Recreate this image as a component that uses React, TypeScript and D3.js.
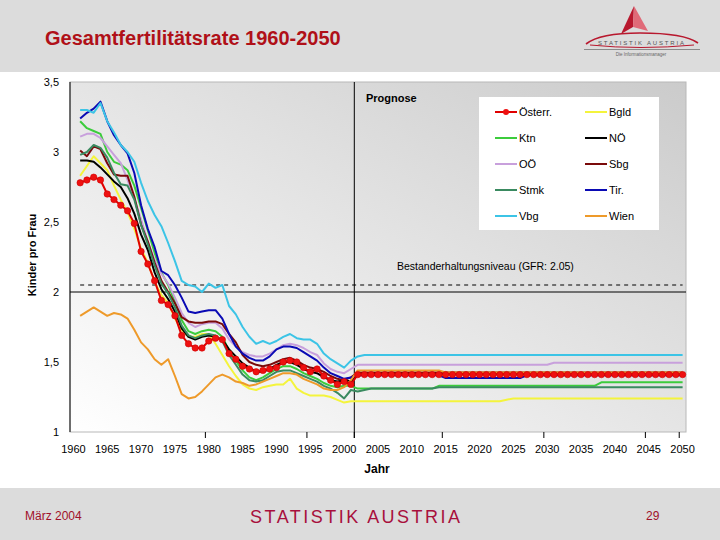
import * as d3 from "d3";

// Kategorien: 1960..2050, Daten ab 1961
const categoryYears = d3.range(1960, 2051);
const dataYears = d3.range(1961, 2051);
const xLabelYears = [1960, 1965, 1970, 1975, 1980, 1985, 1990, 1995, 2000, 2005, 2010, 2015, 2020, 2025, 2030, 2035, 2040, 2045, 2050];
const xTickYears = [1980, 1995, 2002, 2015, 2030, 2045, 2050];
const yTicks = [1, 1.5, 2, 2.5, 3, 3.5];
const prognoseStart = 2002;
const replacementLevel = 2.05;

// 1961-2001 (Beobachtung)
const oesterrHist = [2.78, 2.80, 2.82, 2.80, 2.70, 2.66, 2.62, 2.58, 2.49, 2.29, 2.20, 2.08, 1.94, 1.91, 1.83, 1.69, 1.63, 1.60, 1.60, 1.65, 1.67, 1.66, 1.56, 1.52, 1.47, 1.45, 1.43, 1.44, 1.45, 1.46, 1.50, 1.51, 1.50, 1.46, 1.43, 1.45, 1.40, 1.37, 1.34, 1.36, 1.34];
const bgldHist = [2.83, 2.90, 2.97, 2.92, 2.87, 2.76, 2.66, 2.57, 2.45, 2.31, 2.21, 2.07, 1.98, 1.92, 1.81, 1.73, 1.68, 1.68, 1.70, 1.70, 1.63, 1.55, 1.47, 1.40, 1.34, 1.31, 1.30, 1.32, 1.33, 1.34, 1.34, 1.38, 1.31, 1.28, 1.26, 1.26, 1.26, 1.25, 1.23, 1.21, 1.22];
const ktnHist = [3.22, 3.17, 3.15, 3.13, 3.00, 2.93, 2.91, 2.87, 2.76, 2.60, 2.44, 2.28, 2.14, 2.05, 1.93, 1.80, 1.72, 1.70, 1.72, 1.73, 1.72, 1.68, 1.58, 1.51, 1.44, 1.39, 1.37, 1.39, 1.42, 1.45, 1.47, 1.47, 1.45, 1.42, 1.40, 1.38, 1.35, 1.33, 1.32, 1.33, 1.33];
const noeHist = [2.94, 2.94, 2.93, 2.89, 2.84, 2.79, 2.75, 2.67, 2.56, 2.41, 2.30, 2.14, 2.02, 1.95, 1.86, 1.74, 1.68, 1.66, 1.68, 1.69, 1.68, 1.66, 1.59, 1.54, 1.49, 1.46, 1.43, 1.43, 1.45, 1.48, 1.50, 1.50, 1.48, 1.45, 1.43, 1.42, 1.39, 1.37, 1.36, 1.37, 1.36];
const ooeHist = [3.11, 3.13, 3.13, 3.10, 3.04, 2.98, 2.92, 2.80, 2.67, 2.52, 2.36, 2.23, 2.13, 2.06, 1.96, 1.85, 1.78, 1.75, 1.77, 1.78, 1.78, 1.74, 1.66, 1.61, 1.57, 1.55, 1.54, 1.54, 1.56, 1.59, 1.62, 1.63, 1.62, 1.60, 1.57, 1.55, 1.49, 1.45, 1.43, 1.42, 1.45];
const sbgHist = [3.01, 2.97, 3.04, 3.02, 2.92, 2.84, 2.83, 2.83, 2.68, 2.48, 2.36, 2.21, 2.08, 2.00, 1.92, 1.82, 1.79, 1.78, 1.78, 1.79, 1.79, 1.77, 1.70, 1.64, 1.55, 1.50, 1.48, 1.47, 1.48, 1.50, 1.52, 1.53, 1.51, 1.48, 1.46, 1.45, 1.43, 1.40, 1.38, 1.37, 1.39];
const stmkHist = [2.98, 3.00, 3.05, 3.03, 2.96, 2.85, 2.77, 2.76, 2.66, 2.48, 2.34, 2.19, 2.06, 1.99, 1.89, 1.76, 1.69, 1.67, 1.69, 1.70, 1.69, 1.65, 1.55, 1.48, 1.41, 1.37, 1.36, 1.37, 1.40, 1.43, 1.44, 1.44, 1.42, 1.40, 1.38, 1.36, 1.33, 1.31, 1.28, 1.24, 1.30];
const tirHist = [3.24, 3.28, 3.31, 3.36, 3.22, 3.12, 3.05, 2.99, 2.85, 2.62, 2.45, 2.32, 2.15, 2.12, 2.05, 1.96, 1.86, 1.85, 1.86, 1.87, 1.87, 1.81, 1.70, 1.61, 1.56, 1.53, 1.51, 1.51, 1.54, 1.59, 1.61, 1.61, 1.60, 1.57, 1.54, 1.51, 1.46, 1.42, 1.40, 1.38, 1.39];
const vbgHist = [3.30, 3.30, 3.28, 3.35, 3.22, 3.14, 3.05, 3.00, 2.93, 2.78, 2.65, 2.55, 2.47, 2.35, 2.22, 2.08, 2.05, 2.04, 2.00, 2.06, 2.03, 2.05, 1.90, 1.84, 1.75, 1.68, 1.63, 1.65, 1.63, 1.65, 1.68, 1.70, 1.67, 1.66, 1.66, 1.63, 1.56, 1.52, 1.49, 1.46, 1.51];
const wienHist = [1.83, 1.86, 1.89, 1.86, 1.83, 1.85, 1.84, 1.81, 1.73, 1.64, 1.59, 1.52, 1.48, 1.52, 1.40, 1.27, 1.24, 1.25, 1.29, 1.34, 1.39, 1.41, 1.39, 1.36, 1.35, 1.33, 1.34, 1.36, 1.38, 1.40, 1.42, 1.42, 1.41, 1.38, 1.36, 1.34, 1.31, 1.30, 1.30, 1.32, 1.37];

// 2002-2050 (Prognose)
const oesterrProg = [
  1.41, 1.41, 1.41, 1.41, 1.41, 1.41, 1.41, 1.41, 1.41, 1.41,
  1.41, 1.41, 1.41, 1.41, 1.41, 1.41, 1.41, 1.41, 1.41, 1.41,
  1.41, 1.41, 1.41, 1.41, 1.41, 1.41, 1.41, 1.41, 1.41, 1.41,
  1.41, 1.41, 1.41, 1.41, 1.41, 1.41, 1.41, 1.41, 1.41, 1.41,
  1.41, 1.41, 1.41, 1.41, 1.41, 1.41, 1.41, 1.41, 1.41];
const bgldProg = [
  1.22, 1.22, 1.22, 1.22, 1.22, 1.22, 1.22, 1.22, 1.22, 1.22,
  1.22, 1.22, 1.22, 1.22, 1.22, 1.22, 1.22, 1.22, 1.22, 1.22,
  1.22, 1.22, 1.23, 1.24, 1.24, 1.24, 1.24, 1.24, 1.24, 1.24,
  1.24, 1.24, 1.24, 1.24, 1.24, 1.24, 1.24, 1.24, 1.24, 1.24,
  1.24, 1.24, 1.24, 1.24, 1.24, 1.24, 1.24, 1.24, 1.24];
const ktnProg = [
  1.31, 1.31, 1.31, 1.31, 1.31, 1.31, 1.31, 1.31, 1.31, 1.31,
  1.31, 1.31, 1.33, 1.33, 1.33, 1.33, 1.33, 1.33, 1.33, 1.33,
  1.33, 1.33, 1.33, 1.33, 1.33, 1.33, 1.33, 1.33, 1.33, 1.33,
  1.33, 1.33, 1.33, 1.33, 1.33, 1.33, 1.355, 1.355, 1.355, 1.355,
  1.355, 1.355, 1.355, 1.355, 1.355, 1.355, 1.355, 1.355, 1.355];
const noeProg = [
  1.415, 1.415, 1.415, 1.415, 1.415, 1.415, 1.415, 1.415, 1.415, 1.415,
  1.415, 1.415, 1.415, 1.415, 1.415, 1.415, 1.415, 1.415, 1.415, 1.415,
  1.415, 1.415, 1.415, 1.415, 1.415, 1.415, 1.415, 1.415, 1.415, 1.415,
  1.415, 1.415, 1.415, 1.415, 1.415, 1.415, 1.415, 1.415, 1.415, 1.415,
  1.415, 1.415, 1.415, 1.415, 1.415, 1.415, 1.415, 1.415, 1.415];
const ooeProg = [
  1.48, 1.48, 1.48, 1.48, 1.48, 1.48, 1.48, 1.48, 1.48, 1.48,
  1.48, 1.48, 1.48, 1.48, 1.48, 1.48, 1.48, 1.48, 1.48, 1.48,
  1.48, 1.48, 1.48, 1.48, 1.48, 1.48, 1.48, 1.48, 1.48, 1.495,
  1.495, 1.495, 1.495, 1.495, 1.495, 1.495, 1.495, 1.495, 1.495, 1.495,
  1.495, 1.495, 1.495, 1.495, 1.495, 1.495, 1.495, 1.495, 1.495];
const sbgProg = [
  1.425, 1.425, 1.425, 1.425, 1.425, 1.425, 1.425, 1.425, 1.425, 1.425,
  1.425, 1.425, 1.425, 1.425, 1.425, 1.425, 1.425, 1.425, 1.425, 1.425,
  1.425, 1.425, 1.425, 1.425, 1.425, 1.425, 1.425, 1.425, 1.425, 1.425,
  1.425, 1.425, 1.425, 1.425, 1.425, 1.425, 1.425, 1.425, 1.425, 1.425,
  1.425, 1.425, 1.425, 1.425, 1.425, 1.425, 1.425, 1.425, 1.425];
const stmkProg = [
  1.29, 1.30, 1.31, 1.31, 1.31, 1.31, 1.31, 1.31, 1.31, 1.31,
  1.31, 1.31, 1.32, 1.32, 1.32, 1.32, 1.32, 1.32, 1.32, 1.32,
  1.32, 1.32, 1.32, 1.32, 1.32, 1.32, 1.32, 1.32, 1.32, 1.32,
  1.32, 1.32, 1.32, 1.32, 1.32, 1.32, 1.32, 1.32, 1.32, 1.32,
  1.32, 1.32, 1.32, 1.32, 1.32, 1.32, 1.32, 1.32, 1.32];
const tirProg = [
  1.405, 1.405, 1.405, 1.405, 1.405, 1.405, 1.405, 1.405, 1.405, 1.405,
  1.405, 1.405, 1.405, 1.385, 1.385, 1.385, 1.385, 1.385, 1.385, 1.385,
  1.385, 1.385, 1.385, 1.385, 1.385, 1.405, 1.405, 1.405, 1.405, 1.405,
  1.405, 1.405, 1.405, 1.405, 1.405, 1.405, 1.405, 1.405, 1.405, 1.405,
  1.405, 1.405, 1.405, 1.405, 1.405, 1.405, 1.405, 1.405, 1.405];
const vbgProg = [
  1.54, 1.55, 1.55, 1.55, 1.55, 1.55, 1.55, 1.55, 1.55, 1.55,
  1.55, 1.55, 1.55, 1.55, 1.55, 1.55, 1.55, 1.55, 1.55, 1.55,
  1.55, 1.55, 1.55, 1.55, 1.55, 1.55, 1.55, 1.55, 1.55, 1.55,
  1.55, 1.55, 1.55, 1.55, 1.55, 1.55, 1.55, 1.55, 1.55, 1.55,
  1.55, 1.55, 1.55, 1.55, 1.55, 1.55, 1.55, 1.55, 1.55];
const wienProg = [
  1.44, 1.44, 1.44, 1.44, 1.44, 1.44, 1.44, 1.44, 1.44, 1.44,
  1.44, 1.44, 1.44, 1.425, 1.425, 1.425, 1.425, 1.425, 1.425, 1.425,
  1.425, 1.425, 1.425, 1.425, 1.425, 1.425, 1.425, 1.425, 1.425, 1.425,
  1.425, 1.425, 1.425, 1.425, 1.425, 1.425, 1.425, 1.425, 1.425, 1.425,
  1.425, 1.425, 1.425, 1.425, 1.425, 1.425, 1.425, 1.425, 1.425];

const series = [
  { name: "Österr.", color: "#e00000", values: oesterrHist.concat(oesterrProg), marker: true },
  { name: "Bgld", color: "#f4f43c", values: bgldHist.concat(bgldProg) },
  { name: "Ktn", color: "#3ccc3c", values: ktnHist.concat(ktnProg) },
  { name: "NÖ", color: "#000000", values: noeHist.concat(noeProg) },
  { name: "OÖ", color: "#c8a0dc", values: ooeHist.concat(ooeProg) },
  { name: "Sbg", color: "#7a0a0a", values: sbgHist.concat(sbgProg) },
  { name: "Stmk", color: "#3a8a60", values: stmkHist.concat(stmkProg) },
  { name: "Tir.", color: "#0a0ab4", values: tirHist.concat(tirProg) },
  { name: "Vbg", color: "#3cc4e6", values: vbgHist.concat(vbgProg) },
  { name: "Wien", color: "#ee9a2a", values: wienHist.concat(wienProg) },
];

const FONT = "'Liberation Sans', Arial, sans-serif";
const plot = { left: 70, right: 686, top: 82, bottom: 432 };

export default function App() {
  const x = d3.scaleBand<number>().domain(categoryYears).range([plot.left, plot.right]);
  const cx = (yr: number) => (x(yr) as number) + x.bandwidth() / 2;
  const y = d3.scaleLinear().domain([1, 3.5]).range([plot.bottom, plot.top]);

  const line = d3
    .line<number>()
    .x((_, i) => cx(dataYears[i]))
    .y((d) => y(d));

  const drawOrder = series.slice(1).concat(series.slice(0, 1));
  const oesterr = series[0];

  const legendLeft = [series[0], series[2], series[4], series[6], series[8]];
  const legendRight = [series[1], series[3], series[5], series[7], series[9]];
  const legendRowY = d3.scalePoint<number>().domain([0, 1, 2, 3, 4]).range([112, 216]);

  const progX = x(prognoseStart) as number;
  const refY = y(replacementLevel);

  return (
    <svg width={720} height={540} style={{ position: "absolute", left: 0, top: 0, fontFamily: FONT }}>
      <defs>
        <linearGradient id="plotBg" x1="0" y1="1" x2="1" y2="0">
          <stop offset="0%" stopColor="#ffffff" />
          <stop offset="100%" stopColor="#cbcbcb" />
        </linearGradient>
      </defs>
      <rect x={0} y={0} width={720} height={540} fill="#ffffff" />
      {/* header + footer bands */}
      <rect x={0} y={0} width={720} height={72} fill="#dcdcdc" />
      <rect x={0} y={488} width={720} height={52} fill="#dcdcdc" />
      <text x={45} y={45} fontSize={20} fontWeight="bold" fill="#b01018">
        Gesamtfertilitätsrate 1960-2050
      </text>

      {/* logo */}
      <g>
        <path d="M634,6 L621,34 L633,27 Z" fill="#b8182e" />
        <path d="M634,6 L648,31 L633,27 Z" fill="#e06a78" />
        <path d="M586,44 Q600,33 640,33 Q684,33 698,43" fill="none" stroke="#b8182e" strokeWidth={1.6} />
        <path d="M590,45 Q640,50 694,45" fill="none" stroke="#b8182e" strokeWidth={1} />
        <text x={641} y={45} fontSize={6} textAnchor="middle" fill="#555" textLength={86} lengthAdjust="spacing">
          STATISTIK AUSTRIA
        </text>
        <line x1={584} x2={700} y1={49.5} y2={49.5} stroke="#8a8a8a" strokeWidth={1} />
        <text x={641} y={56} fontSize={4.5} textAnchor="middle" fill="#666">
          Die Informationsmanager
        </text>
      </g>

      {/* plot area */}
      <rect
        x={plot.left}
        y={plot.top}
        width={plot.right - plot.left}
        height={plot.bottom - plot.top}
        fill="url(#plotBg)"
        stroke="#b8b8b8"
        strokeWidth={1}
      />
      <line x1={plot.left} x2={plot.right} y1={y(2)} y2={y(2)} stroke="#000" strokeWidth={1} />
      <line
        x1={cx(dataYears[0])}
        x2={cx(dataYears[dataYears.length - 1])}
        y1={refY}
        y2={refY}
        stroke="#000"
        strokeWidth={1}
        strokeDasharray="4,4"
      />
      <line x1={progX} x2={progX} y1={plot.top} y2={plot.bottom + 6} stroke="#000" strokeWidth={1} />
      <line x1={plot.left} x2={plot.left} y1={plot.top} y2={plot.bottom} stroke="#000" strokeWidth={1} />

      {/* x ticks */}
      {xTickYears.map((yr) => (
        <line key={yr} x1={x(yr)} x2={x(yr)} y1={plot.bottom} y2={plot.bottom + 6} stroke="#000" strokeWidth={1} />
      ))}
      {xLabelYears.map((yr) => (
        <text key={yr} x={cx(yr)} y={453} fontSize={11} textAnchor="middle" fill="#000">
          {yr}
        </text>
      ))}
      {yTicks.map((t) => (
        <text key={t} x={59} y={y(t)} dy="0.35em" fontSize={11} textAnchor="end" fill="#000">
          {String(t).replace(".", ",")}
        </text>
      ))}
      <text x={377} y={473} fontSize={12} fontWeight="bold" textAnchor="middle">
        Jahr
      </text>
      <text transform="translate(36,255) rotate(-90)" fontSize={11} fontWeight="bold" textAnchor="middle">
        Kinder pro Frau
      </text>

      <text x={366} y={102} fontSize={11} fontWeight="bold">
        Prognose
      </text>
      <text x={397} y={270} fontSize={10.5}>
        Bestanderhaltungsniveau (GFR: 2.05)
      </text>

      {/* series */}
      {drawOrder.map((s) => (
        <path key={s.name} d={line(s.values) || ""} fill="none" stroke={s.color} strokeWidth={2} strokeLinejoin="round" />
      ))}
      {oesterr.values.map((v, i) => (
        <circle key={i} cx={cx(dataYears[i])} cy={y(v)} r={3.2} fill="#ee1010" stroke="#d00000" strokeWidth={0.6} />
      ))}

      {/* legend */}
      <rect x={479} y={97} width={180} height={133} fill="#ffffff" />
      {[legendLeft, legendRight].map((col, ci) =>
        col.map((s, ri) => {
          const ly = legendRowY(ri) as number;
          const lx = ci === 0 ? 495 : 585;
          return (
            <g key={s.name}>
              <line x1={lx} x2={lx + 22} y1={ly} y2={ly} stroke={s.color} strokeWidth={2} />
              {s.marker && <circle cx={lx + 11} cy={ly} r={3} fill="#ee1010" />}
              <text x={lx + 24} y={ly + 4} fontSize={11} fill="#000">
                {s.name}
              </text>
            </g>
          );
        })
      )}

      {/* footer */}
      <text x={25} y={520} fontSize={12} fill="#a0102a" style={{ fontStretch: "condensed" }}>
        März 2004
      </text>
      <text x={250} y={523} fontSize={18} fill="#a8103c" textLength={210} lengthAdjust="spacing">
        STATISTIK AUSTRIA
      </text>
      <text x={646} y={520} fontSize={12} fill="#a0102a">
        29
      </text>
    </svg>
  );
}
